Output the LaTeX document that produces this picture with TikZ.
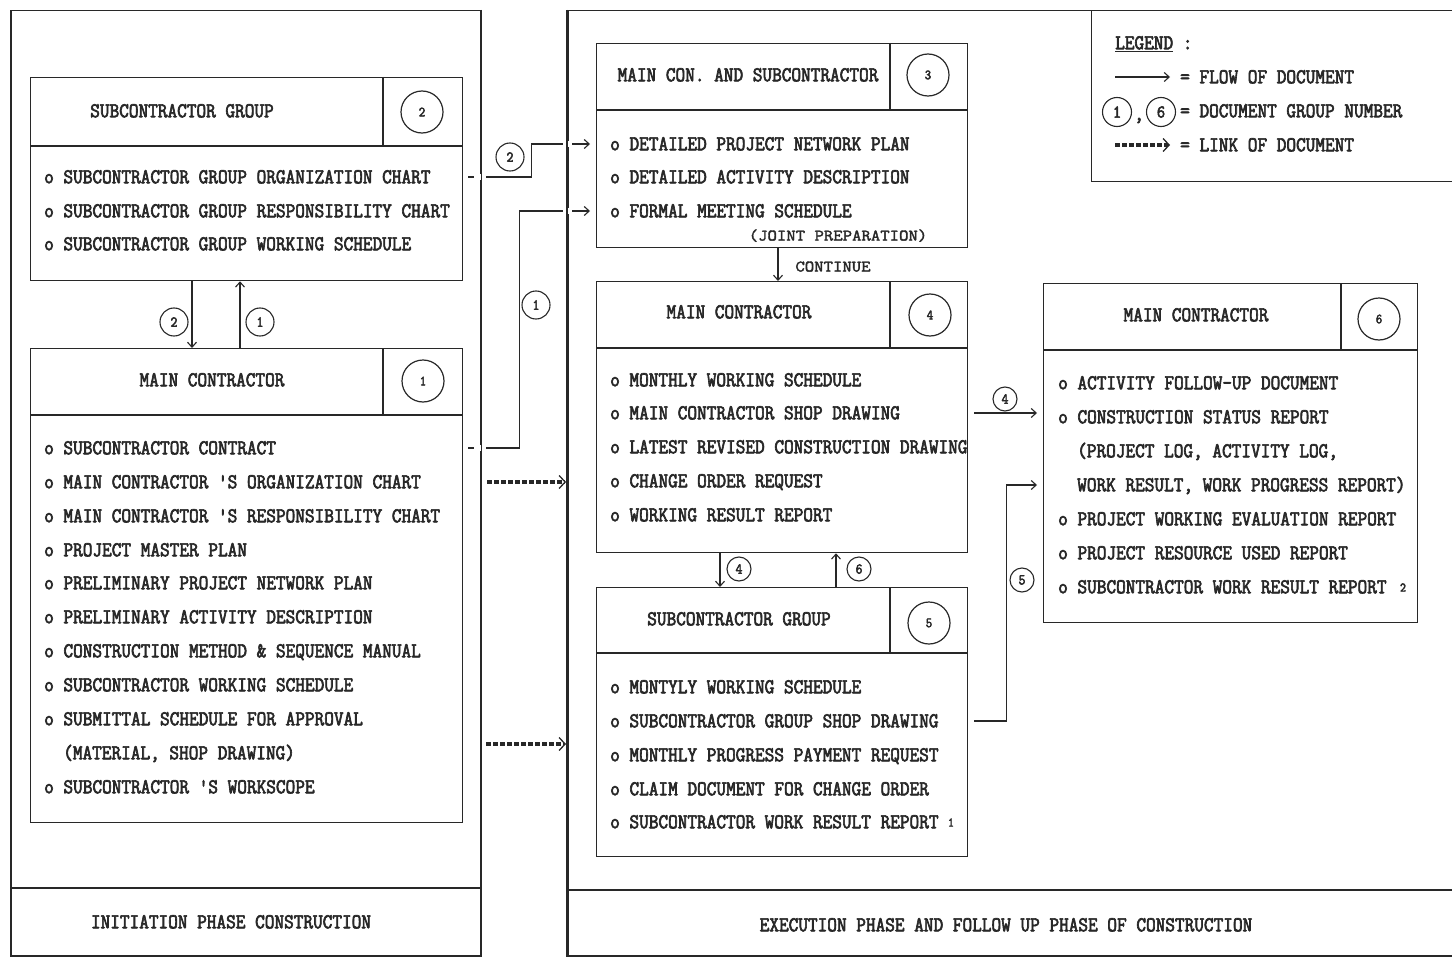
\documentclass[tikz,border=0pt]{standalone}
\usepackage{fontspec}
\usetikzlibrary{arrows.meta,calc}
\setmonofont{Latin Modern Mono}[FakeStretch=0.893,FakeBold=3]
\newfontfamily\tws{Latin Modern Mono}[FakeStretch=1.14,FakeBold=2.2]
\definecolor{ink}{RGB}{40,40,40}
\begin{document}
\begin{tikzpicture}[x=1pt,y=-1pt,
 every node/.style={text=ink},
 box/.style={draw=ink,line width=1.3pt,rectangle,inner sep=0pt,anchor=north west},
 panel/.style={draw=ink,line width=1.5pt,rectangle,inner sep=0pt,anchor=north west},
 hline/.style={draw=ink,line width=1.3pt},
 txt/.style={font=\ttfamily\fontsize{21}{25}\selectfont,inner sep=0pt,text height=13.5pt,text depth=1pt},
 item/.style={txt,anchor=west},
 stxt/.style={font=\tws\fontsize{16}{19}\selectfont,inner sep=0pt,text height=10pt,text depth=1pt},
 bignum/.style={circle,draw=ink,line width=1.2pt,minimum size=42pt,inner sep=0pt,font=\ttfamily\fontsize{14}{14}\selectfont},
 smallnum/.style={circle,draw=ink,line width=1.1pt,minimum size=26pt,inner sep=0pt,font=\ttfamily\fontsize{15}{15}\selectfont},
 flow/.style={draw=ink,line width=1.1pt,-{Straight Barb[length=5pt,width=9pt]}},
 link/.style={draw=ink,line width=3.6pt,dash pattern=on 5pt off 2pt,-{Straight Barb[length=6pt,width=13pt,line width=1.3pt]}},
]
\useasboundingbox (0,0) rectangle (1452,958);
\clip (0,0) rectangle (1452,958);
\fill[white] (0,0) rectangle (1452,958);

% panels
\node[panel,minimum width=470pt,minimum height=945pt] (pL) at (10,10) {};
\node[panel,minimum width=900pt,minimum height=945pt] (pR) at (567,10) {};
\draw[ink,line width=2.2pt] (10,888) -- (480,888);
\draw[ink,line width=2.2pt] (567,890) -- (1467,890);
\node[txt] (fL) at (231,922) {INITIATION PHASE CONSTRUCTION};
\node[txt] (fR) at (1006,925) {EXECUTION PHASE AND FOLLOW UP PHASE OF CONSTRUCTION};

% legend
\node[box,minimum width=380pt,minimum height=171pt] (lg) at (1091,10) {};
\node[item] (lgt) at (1115,43) {\underline{LEGEND} :};
\coordinate (la1) at (1115,77); \coordinate (la2) at (1170,77);
\draw[flow] (la1) -- (la2);
\node[item] (lt1) at (1180,77) {= FLOW OF DOCUMENT};
\node[smallnum,minimum size=29pt,font=\ttfamily\fontsize{18}{18}\selectfont] (lc1) at (1117,112) {1};
\node[txt] (lcm) at (1139,114) {,};
\node[smallnum,minimum size=29pt,font=\ttfamily\fontsize{18}{18}\selectfont] (lc6) at (1161,112) {6};
\node[item] (lt2) at (1180,111) {= DOCUMENT GROUP NUMBER};
\coordinate (lb1) at (1115,145); \coordinate (lb2) at (1170,145);
\draw[link] (lb1) -- (lb2);
\node[item] (lt3) at (1180,145) {= LINK OF DOCUMENT};

% box 2
\node[box,minimum width=432pt,minimum height=203pt] (b2) at (30,77) {};
\draw[hline] (30,146) -- (462,146); \draw[hline] (383,77) -- (383,146);
\node[txt] (h2) at (182,111) {SUBCONTRACTOR GROUP};
\node[bignum] (n2) at (422,112) {2};
\node[item] (i21) at (44,177) {o SUBCONTRACTOR GROUP ORGANIZATION CHART};
\node[item] (i22) at (44,211) {o SUBCONTRACTOR GROUP RESPONSIBILITY CHART};
\node[item] (i23) at (44,244) {o SUBCONTRACTOR GROUP WORKING SCHEDULE};

% box 1
\node[box,minimum width=432pt,minimum height=474pt] (b1) at (30,348) {};
\draw[hline] (30,415) -- (462,415); \draw[hline] (383,348) -- (383,415);
\node[txt] (h1) at (212,380) {MAIN CONTRACTOR};
\node[bignum] (n1) at (423,381) {1};
\node[item] (i11) at (44,448) {o SUBCONTRACTOR CONTRACT};
\node[item] (i12) at (44,482) {o MAIN CONTRACTOR 'S ORGANIZATION CHART};
\node[item] (i13) at (44,516) {o MAIN CONTRACTOR 'S RESPONSIBILITY CHART};
\node[item] (i14) at (44,550) {o PROJECT MASTER PLAN};
\node[item] (i15) at (44,583) {o PRELIMINARY PROJECT NETWORK PLAN};
\node[item] (i16) at (44,617) {o PRELIMINARY ACTIVITY DESCRIPTION};
\node[item] (i17) at (44,651) {o CONSTRUCTION METHOD \& SEQUENCE MANUAL};
\node[item] (i18) at (44,685) {o SUBCONTRACTOR WORKING SCHEDULE};
\node[item] (i19) at (44,719) {o SUBMITTAL SCHEDULE FOR APPROVAL};
\node[item] (i1a) at (63,753) {(MATERIAL, SHOP DRAWING)};
\node[item] (i1b) at (44,787) {o SUBCONTRACTOR 'S WORKSCOPE};

% box 3
\node[box,minimum width=371pt,minimum height=204pt] (b3) at (596,43) {};
\draw[hline] (596,110) -- (967,110); \draw[hline] (890,43) -- (890,110);
\node[txt] (h3) at (748,75) {MAIN CON. AND SUBCONTRACTOR};
\node[bignum] (n3) at (928,75) {3};
\node[item] (i31) at (610,144) {o DETAILED PROJECT NETWORK PLAN};
\node[item] (i32) at (610,177) {o DETAILED ACTIVITY DESCRIPTION};
\node[item] (i33) at (610,211) {o FORMAL MEETING SCHEDULE};
\node[stxt] (jp) at (838,236) {(JOINT PREPARATION)};

% box 4
\node[box,minimum width=371pt,minimum height=271pt] (b4) at (596,281) {};
\draw[hline] (596,348) -- (967,348); \draw[hline] (890,281) -- (890,348);
\node[txt] (h4) at (739,312) {MAIN CONTRACTOR};
\node[bignum] (n4) at (930,315) {4};
\node[item] (i41) at (610,380) {o MONTHLY WORKING SCHEDULE};
\node[item] (i42) at (610,413) {o MAIN CONTRACTOR SHOP DRAWING};
\node[item] (i43) at (610,447) {o LATEST REVISED CONSTRUCTION DRAWING};
\node[item] (i44) at (610,481) {o CHANGE ORDER REQUEST};
\node[item] (i45) at (610,515) {o WORKING RESULT REPORT};

% box 5
\node[box,minimum width=371pt,minimum height=269pt] (b5) at (596,587) {};
\draw[hline] (596,653) -- (967,653); \draw[hline] (890,587) -- (890,653);
\node[txt] (h5) at (739,619) {SUBCONTRACTOR GROUP};
\node[bignum] (n5) at (929,623) {5};
\node[item] (i51) at (610,687) {o MONTYLY WORKING SCHEDULE};
\node[item] (i52) at (610,721) {o SUBCONTRACTOR GROUP SHOP DRAWING};
\node[item] (i53) at (610,755) {o MONTHLY PROGRESS PAYMENT REQUEST};
\node[item] (i54) at (610,789) {o CLAIM DOCUMENT FOR CHANGE ORDER};
\node[item] (i55) at (610,822) {o SUBCONTRACTOR WORK RESULT REPORT};
\node[stxt,font=\ttfamily\fontsize{13}{13}\selectfont] (t1) at (951,822) {1};

% box 6
\node[box,minimum width=374pt,minimum height=339pt] (b6) at (1043,283) {};
\draw[hline] (1043,350) -- (1417,350); \draw[hline] (1341,283) -- (1341,350);
\node[txt] (h6) at (1196,315) {MAIN CONTRACTOR};
\node[bignum] (n6) at (1379,319) {6};
\node[item] (i61) at (1058,383) {o ACTIVITY FOLLOW-UP DOCUMENT};
\node[item] (i62) at (1058,417) {o CONSTRUCTION STATUS REPORT};
\node[item] (i63) at (1077,451) {(PROJECT LOG, ACTIVITY LOG,};
\node[item] (i64) at (1077,485) {WORK RESULT, WORK PROGRESS REPORT)};
\node[item] (i65) at (1058,519) {o PROJECT WORKING EVALUATION REPORT};
\node[item] (i66) at (1058,553) {o PROJECT RESOURCE USED REPORT};
\node[item] (i67) at (1058,587) {o SUBCONTRACTOR WORK RESULT REPORT};
\node[stxt,font=\ttfamily\fontsize{13}{13}\selectfont] (t2) at (1403,587) {2};

% connectors
\draw[flow,shorten <=5pt,shorten >=6pt] (b2.east |- i21) -- ++(68,0) |- (b3.west |- i31);
\draw[flow,shorten <=5pt,shorten >=6pt] (b1.east |- i11) -- ++(56,0) |- (b3.west |- i33);
\node[smallnum,minimum size=28pt] (c2) at (510,157) {2};
\node[smallnum,minimum size=28pt] (c1) at (536,305) {1};
\draw[link,shorten <=24pt,shorten >=1pt] (b1.east |- i12) -- (pR.west |- i12);
\coordinate (l2) at (462,744);
\draw[link,shorten <=24pt,shorten >=1pt] (l2) -- (pR.west |- l2);

\draw[flow] ($(b2.south west)+(162,0)$) -- ($(b1.north west)+(162,0)$);
\draw[flow] ($(b1.north west)+(210,0)$) -- ($(b2.south west)+(210,0)$);
\node[smallnum,minimum size=28pt] (c3) at (174,322) {2};
\node[smallnum,minimum size=28pt] (c4) at (260,322) {1};

\draw[flow] ($(b3.south west)+(182,0)$) -- ($(b4.north west)+(182,0)$);
\node[stxt] (cont) at (833,267) {CONTINUE};

\draw[flow] ($(b4.south west)+(124,0)$) -- ($(b5.north west)+(124,0)$);
\draw[flow] ($(b5.north west)+(240,0)$) -- ($(b4.south west)+(240,0)$);
\node[smallnum,minimum size=24pt] (c5) at (739,569) {4};
\node[smallnum,minimum size=24pt] (c6) at (859,569) {6};

\draw[flow,shorten <=6pt,shorten >=6pt] (b4.east |- i42) -- (b6.west |- i42);
\node[smallnum,minimum size=24pt] (c7) at (1005,399) {4};
\draw[flow,shorten <=6pt,shorten >=6pt] (b5.east |- i52) -- ++(38,0) |- (b6.west |- i64);
\node[smallnum,minimum size=24pt] (c8) at (1022,580) {5};

% gaps where connectors cross panel borders
\foreach \yy in {177,448} {\fill[white] (474,\yy-3) rectangle (486,\yy+3);}
\foreach \yy in {144,211} {\fill[white] (563,\yy-3) rectangle (572,\yy+3);}
\draw[ink,line width=1.5pt] (pL.north east) -- (pL.south east);
\draw[ink,line width=1.5pt] (pR.north west) -- (pR.south west);
\end{tikzpicture}
\end{document}
